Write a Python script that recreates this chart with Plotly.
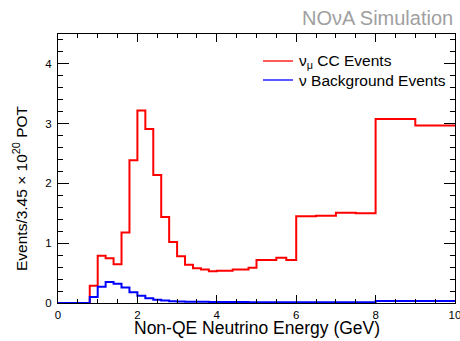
import plotly.graph_objects as go

# Bin edges (GeV) of the non-QE neutrino energy histogram
bin_edges = [0.0, 0.2, 0.4, 0.6, 0.8, 1.0, 1.2, 1.4, 1.6, 1.8, 2.0, 2.2, 2.4,
             2.6, 2.8, 3.0, 3.2, 3.4, 3.6, 3.8, 4.0, 4.2, 4.4, 4.6, 4.8, 5.0,
             5.5, 5.75, 6.0, 6.5, 7.0, 7.5, 8.0, 9.0, 10.0]

# Events per 3.45e20 POT in each bin
numu_cc = [0.0, 0.0, 0.0, 0.0, 0.29, 0.79, 0.75, 0.65, 1.18, 2.39, 3.22, 2.91,
           2.14, 1.44, 1.02, 0.78, 0.64, 0.58, 0.56, 0.53, 0.54, 0.54, 0.56,
           0.56, 0.59, 0.72, 0.755, 0.72, 1.45, 1.46, 1.51, 1.50, 3.08, 2.97]
nu_bkg = [0.0, 0.0, 0.0, 0.0, 0.10, 0.27, 0.35, 0.32, 0.26, 0.18, 0.12, 0.08,
          0.055, 0.04, 0.03, 0.025, 0.022, 0.02, 0.02, 0.018, 0.017, 0.016,
          0.015, 0.015, 0.014, 0.014, 0.013, 0.013, 0.012, 0.012, 0.012,
          0.012, 0.035, 0.035]

series_names = ["ν<sub>μ</sub> CC Events", "ν Background Events"]
series_values = [numu_cc, nu_bkg]
series_colors = ["#ff0000", "#0000ff"]

FONT = "Liberation Sans, Arial, Helvetica, sans-serif"
W, H = 460, 341
M = dict(l=58, r=5, t=34, b=38)
PW, PH = W - M["l"] - M["r"], H - M["t"] - M["b"]


def px_to_paper(px, py):
    """Convert page pixel position to paper coordinates."""
    return (px - M["l"]) / PW, (H - M["b"] - py) / PH


fig = go.Figure()

for name, vals, color in zip(series_names, series_values, series_colors):
    # step outline: each value held across its bin
    fig.add_trace(go.Scatter(
        x=bin_edges, y=list(vals) + [vals[-1]], name=name,
        mode="lines", line=dict(color=color, width=2, shape="hv"),
        showlegend=False, hoverinfo="skip",
    ))

axis_common = dict(
    showline=True, linecolor="black", linewidth=1, mirror="ticks",
    ticks="inside", tickcolor="black", tickwidth=1,
    showgrid=False, zeroline=False, automargin=False,
    tickfont=dict(family=FONT, size=11.5, color="black"),
)

fig.update_xaxes(
    range=[0, 10], tickvals=[0, 2, 4, 6, 8, 10], ticklen=8,
    ticklabeloverflow="allow", ticklabelstandoff=1,
    minor=dict(ticks="inside", ticklen=4, dtick=0.5, tick0=0,
               tickcolor="black", showgrid=False),
    **axis_common,
)
fig.update_yaxes(
    range=[0, 4.5], tickvals=[0, 1, 2, 3, 4], ticklen=11,
    ticklabelstandoff=3,
    minor=dict(ticks="inside", ticklen=5, dtick=0.2, tick0=0,
               tickcolor="black", showgrid=False),
    **axis_common,
)

# legend drawn as line samples with labels, no box
shapes, annotations = [], []
for i, (name, color) in enumerate(zip(series_names, series_colors)):
    py = 61 + 19 * i
    x0, y0 = px_to_paper(263, py)
    x1, _ = px_to_paper(293, py)
    shapes.append(dict(type="line", xref="paper", yref="paper",
                       x0=x0, x1=x1, y0=y0, y1=y0,
                       line=dict(color=color, width=1.3)))
    tx, _ = px_to_paper(297, py)
    annotations.append(dict(text=name, xref="paper", yref="paper",
                            x=tx, y=y0, xanchor="left", yanchor="middle",
                            showarrow=False,
                            font=dict(family=FONT, size=15.5, color="black")))

xt, yt = px_to_paper(0, 328)
annotations.append(dict(text="Non-QE Neutrino Energy (GeV)", xref="paper",
                        yref="paper", x=0.5, y=yt, xanchor="center",
                        yanchor="middle", showarrow=False,
                        font=dict(family=FONT, size=17.5, color="black")))
xt, yt = px_to_paper(20, 188)
annotations.append(dict(text="Events/3.45 × 10<sup>20</sup> POT",
                        xref="paper", yref="paper", x=xt, y=yt,
                        xanchor="center", yanchor="middle", textangle=-90,
                        showarrow=False,
                        font=dict(family=FONT, size=15.5, color="black")))
_, yt = px_to_paper(0, 18)
annotations.append(dict(text="NOνA Simulation", xref="paper", yref="paper",
                        x=1.0, y=yt, xanchor="right", yanchor="middle",
                        showarrow=False,
                        font=dict(family=FONT, size=20, color="#a0a0a0")))

fig.update_layout(
    width=W, height=H, margin=M, showlegend=False,
    paper_bgcolor="white", plot_bgcolor="white",
    font=dict(family=FONT, color="black"),
    shapes=shapes, annotations=annotations,
)

fig.write_html("out.html")
